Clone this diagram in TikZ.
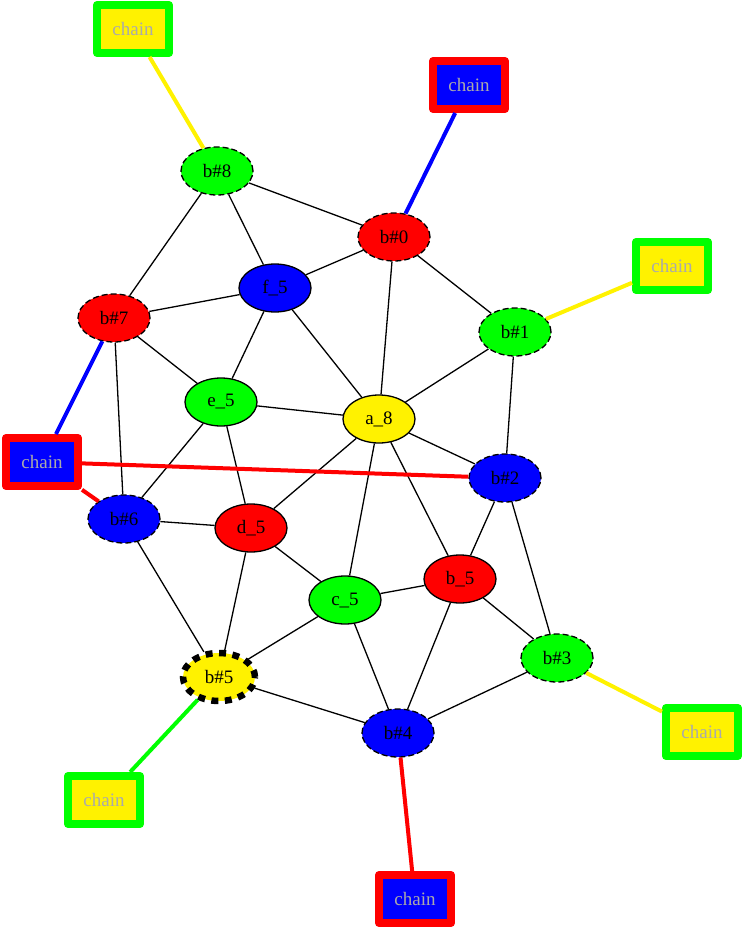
\documentclass[tikz,border=0pt]{standalone}
\usepackage{fontspec}
\setmainfont{Liberation Serif}
\usetikzlibrary{shapes.geometric}
\definecolor{chaingray}{RGB}{170,170,170}

\begin{document}
\begin{tikzpicture}[
  x=1pt,y=-1pt,
  font=\fontsize{19}{22}\selectfont,
  vtx/.style={ellipse,draw,minimum width=72pt,minimum height=48pt,
    inner sep=0pt,line width=1.3pt},
  bvtx/.style={vtx,dash pattern=on 6pt off 3pt},
  chainbox/.style={rectangle,line width=8pt,line join=round,
    minimum width=72pt,minimum height=48pt,inner sep=0pt,text=chaingray},
  gy/.style={chainbox,draw=green,fill=yellow},
  rb/.style={chainbox,draw=red,fill=blue},
  edge/.style={line width=1.3pt},
  link/.style={line width=4pt}
]
\useasboundingbox (0,0) rectangle (744,928);

% graph vertices
\node[bvtx,fill=green] (bh8) at (217,171) {b\#8};
\node[bvtx,fill=red] (bh0) at (394,237) {b\#0};
\node[vtx,fill=blue] (f5) at (275,288) {f\_5};
\node[bvtx,fill=red] (bh7) at (114,318) {b\#7};
\node[bvtx,fill=green] (bh1) at (515,332) {b\#1};
\node[vtx,fill=green] (e5) at (221,402) {e\_5};
\node[vtx,fill=yellow] (a8) at (379,419) {a\_8};
\node[bvtx,fill=blue] (bh2) at (505,478) {b\#2};
\node[bvtx,fill=blue] (bh6) at (124,519) {b\#6};
\node[vtx,fill=red] (d5) at (251,528) {d\_5};
\node[vtx,fill=red] (b5) at (460,579) {b\_5};
\node[vtx,fill=green] (c5) at (345,600) {c\_5};
\node[bvtx,fill=green] (bh3) at (557,658) {b\#3};
\node[vtx,fill=yellow,line width=6.5pt,dash pattern=on 7pt off 6.5pt] (bh5) at (219,677) {b\#5};
\node[bvtx,fill=blue] (bh4) at (398,733) {b\#4};

% chain boxes
\node[gy] (ch8) at (133,29) {chain};
\node[rb] (ch0) at (469,85) {chain};
\node[gy] (ch1) at (672,266) {chain};
\node[rb] (ch7) at (42,462) {chain};
\node[gy] (ch3) at (702,732) {chain};
\node[gy] (ch5) at (104,800) {chain};
\node[rb] (ch4) at (415,899) {chain};

% plain edges
\draw[edge] (bh8) -- (bh0) (bh8) -- (f5) (bh8) -- (bh7);
\draw[edge] (bh0) -- (f5) (bh0) -- (a8) (bh0) -- (bh1);
\draw[edge] (f5) -- (bh7) (f5) -- (e5) (f5) -- (a8);
\draw[edge] (bh7) -- (e5) (bh7) -- (bh6);
\draw[edge] (bh1) -- (a8) (bh1) -- (bh2);
\draw[edge] (e5) -- (a8) (e5) -- (bh6) (e5) -- (d5);
\draw[edge] (a8) -- (bh2) (a8) -- (d5) (a8) -- (c5) (a8) -- (b5);
\draw[edge] (bh2) -- (b5) (bh2) -- (bh3);
\draw[edge] (bh6) -- (d5) (bh6) -- (bh5);
\draw[edge] (d5) -- (c5) (d5) -- (bh5);
\draw[edge] (b5) -- (c5) (b5) -- (bh3) (b5) -- (bh4);
\draw[edge] (c5) -- (bh5) (c5) -- (bh4);
\draw[edge] (bh3) -- (bh4) (bh5) -- (bh4);

% chain links
\draw[link,yellow] (ch8) -- (bh8);
\draw[link,blue] (ch0) -- (bh0);
\draw[link,yellow] (ch1) -- (bh1);
\draw[link,blue] (ch7) -- (bh7);
\draw[link,red] (ch7) -- (bh2);
\draw[link,red] (ch7) -- (bh6);
\draw[link,yellow] (ch3) -- (bh3);
\draw[link,green] (ch5) -- (bh5);
\draw[link,red] (ch4) -- (bh4);
\end{tikzpicture}
\end{document}
